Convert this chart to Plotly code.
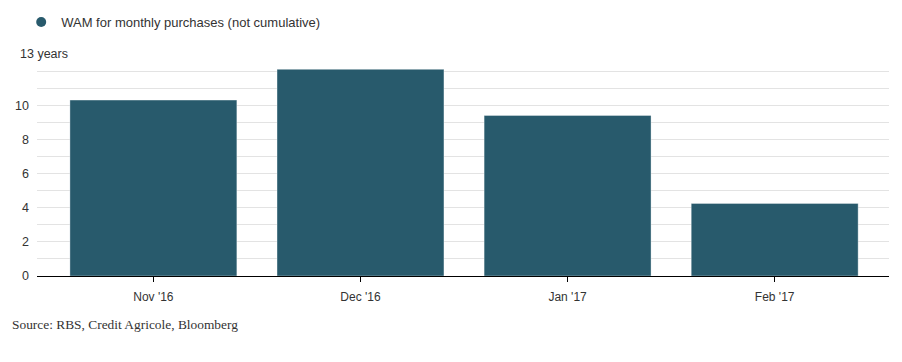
import plotly.graph_objects as go

categories = ["Nov '16", "Dec '16", "Jan '17", "Feb '17"]
wam_values = [10.3, 12.1, 9.4, 4.25]
series_name = "WAM for monthly purchases (not cumulative)"
y_tick_vals = list(range(0, 14))
y_tick_text = ["0", "", "2", "", "4", "", "6", "", "8", "", "10", "", "", ""]
source_text = "Source: RBS, Credit Agricole, Bloomberg"

bar_color = "#285a6c"

fig = go.Figure()
fig.add_trace(go.Bar(
    x=categories, y=wam_values, width=0.806,
    marker=dict(color=bar_color, line=dict(color="rgba(255,255,255,0.35)", width=1)),
    showlegend=False, hoverinfo="x+y",
))
fig.add_trace(go.Scatter(
    x=[None], y=[None], mode="markers", name=series_name,
    marker=dict(symbol="circle", size=10, color=bar_color),
    showlegend=True,
))

fig.update_layout(
    width=902, height=362,
    margin=dict(l=37, r=13, t=54, b=86, autoexpand=False),
    paper_bgcolor="white", plot_bgcolor="white",
    font=dict(family="Liberation Sans, Arial, sans-serif", size=12, color="#333333"),
    showlegend=True,
    legend=dict(orientation="h", xref="container", yref="container",
                x=0.0235, xanchor="left", y=1 - 22 / 362, yanchor="middle",
                font=dict(size=13, color="#333333"), itemwidth=30,
                bgcolor="rgba(0,0,0,0)"),
)
fig.update_xaxes(
    range=[-0.562, 3.552], showgrid=False, showline=True, linecolor="#000000", linewidth=1,
    ticks="outside", ticklen=5, tickcolor="#000000", tickwidth=1, ticklabelstandoff=5,
    tickfont=dict(size=12, color="#333333"), fixedrange=True, automargin=False,
)
fig.update_yaxes(
    range=[0, 13], tickvals=y_tick_vals, ticktext=y_tick_text,
    showgrid=True, gridcolor="#e3e3e3", gridwidth=1, zeroline=False,
    showline=False, ticks="", ticklabelstandoff=7,
    tickfont=dict(size=12.5, color="#333333"), fixedrange=True, automargin=False,
)
fig.add_annotation(
    text="13 years", x=-0.025, xref="paper", xanchor="left",
    y=13, yref="y", yanchor="middle", showarrow=False,
    bgcolor="white", borderpad=3,
    font=dict(size=12.5, color="#333333"),
)
fig.add_annotation(
    text=source_text, x=-0.0317, xref="paper", xanchor="left",
    y=-0.218, yref="paper", yanchor="middle", showarrow=False,
    font=dict(family="Liberation Serif, Georgia, serif", size=13.4, color="#333333"),
)

fig.write_html("out.html", config={"displayModeBar": False},
               post_script="document.body.style.margin='0';")
